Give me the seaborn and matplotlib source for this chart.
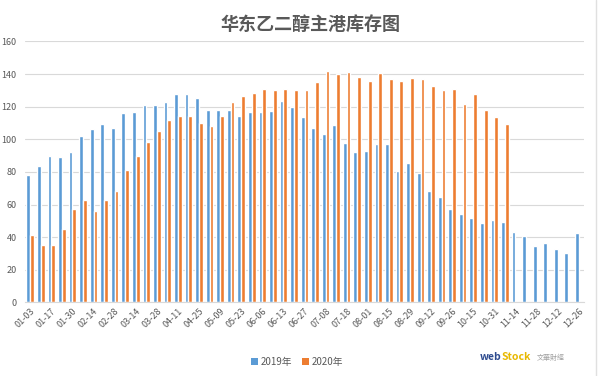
import numpy as np
import pandas as pd
import matplotlib
matplotlib.use("Agg")
import matplotlib.pyplot as plt
import seaborn as sns
from matplotlib.patches import Patch

dates = ["01-03", "01-10", "01-17", "01-24", "01-30", "02-07", "02-14", "02-21", "02-28",
         "03-07", "03-14", "03-21", "03-28", "04-04", "04-11", "04-18", "04-25", "05-02",
         "05-09", "05-16", "05-23", "05-30", "06-06", "06-10", "06-13", "06-20", "06-27",
         "07-04", "07-08", "07-11", "07-18", "07-25", "08-01", "08-08", "08-15", "08-22",
         "08-29", "09-05", "09-12", "09-19", "09-26", "10-10", "10-15", "10-24", "10-31",
         "11-07", "11-14", "11-21", "11-28", "12-05", "12-12", "12-19", "12-26"]

stock_2019 = [78, 83.5, 90, 89, 92.5, 102, 106, 109.5, 107, 116, 117, 121, 121, 123, 127.5,
              127.5, 125, 118, 118, 118, 114.5, 116.5, 116.5, 117.5, 123.5, 120, 113.5, 107,
              103.5, 108.5, 98, 92, 93, 97, 97, 80.5, 85.5, 79.5, 68.5, 64.5, 57, 54.5, 51.5,
              48.5, 50.5, 49, 43, 41, 34.5, 36.5, 32.5, 30, 42.5]

stock_2020 = [41.5, 35, 35.5, 45, 57, 62.5, 56, 63, 68, 81, 90, 98.5, 105, 112, 114, 114.5,
              110, 108, 114, 123, 126.5, 128.5, 131, 130.5, 131, 130, 130.5, 135, 142, 140,
              141, 138, 136, 140.5, 137, 135.5, 137.5, 137, 132.5, 130, 131, 121.5, 127.5,
              118, 113.5, 109.5]

series_names = ["2019年", "2020年"]
colors = ["#5B9BD5", "#ED7D31"]

s2020_full = stock_2020 + [np.nan] * (len(dates) - len(stock_2020))
df = pd.DataFrame({
    "date": dates * 2,
    "value": stock_2019 + s2020_full,
    "year": [series_names[0]] * len(dates) + [series_names[1]] * len(dates),
})

sns.set_theme(style="white")
plt.rcParams['font.family'] = ['Noto Sans CJK SC', 'DejaVu Sans']

fig = plt.figure(figsize=(6.0, 3.76), dpi=100)
ax = fig.add_axes([0.0417, 0.1957, 0.9316, 0.6942])

sns.barplot(data=df, x="date", y="value", hue="year", order=dates,
            hue_order=series_names, palette=colors, saturation=1,
            width=0.72, ax=ax, legend=False)

ax.set_xlim(-0.5, len(dates) - 0.5)
ax.set_ylim(0, 160)
ax.set_yticks(np.arange(0, 161, 20))
ax.yaxis.grid(True, color="#D9D9D9", linewidth=0.8)
ax.set_axisbelow(True)
for s in ["top", "right", "left"]:
    ax.spines[s].set_visible(False)
ax.spines["bottom"].set_color("#D9D9D9")
ax.spines["bottom"].set_linewidth(0.8)

ax.set_xticks(range(0, len(dates), 2))
ax.set_xticklabels(dates[::2], rotation=45, ha="right", rotation_mode="anchor",
                   fontsize=6.5, color="#595959")
ax.tick_params(axis="y", labelsize=6.5, labelcolor="#595959", length=0, pad=6)
ax.tick_params(axis="x", length=0, pad=3)
ax.set_xlabel("")
ax.set_ylabel("")

fig.text(0.517, 0.936, "华东乙二醇主港库存图", ha="center", va="center",
         fontsize=13, fontweight="bold", color="#595959")

handles = [Patch(facecolor=c, edgecolor="none") for c in colors]
fig.legend(handles, series_names, loc="center", bbox_to_anchor=(0.495, 0.038),
           ncol=2, frameon=False, fontsize=7, handlelength=0.7, handleheight=0.7,
           handletextpad=0.3, columnspacing=1.0, labelcolor="#595959")

fig.text(0.800, 0.05, "web", ha="left", va="center", fontsize=7.5,
         fontweight="bold", color="#2E4B8F")
fig.text(0.836, 0.05, "Stock", ha="left", va="center", fontsize=7.5,
         fontweight="bold", color="#E8B800")
fig.text(0.895, 0.047, "文華財經", ha="left", va="center", fontsize=5,
         color="#A0A0A0")

fig.add_artist(plt.Line2D([0.993, 0.993], [0.0, 1.0], color="#E0E0E0",
                          linewidth=1, transform=fig.transFigure))

fig.savefig("out.png", dpi=100)
